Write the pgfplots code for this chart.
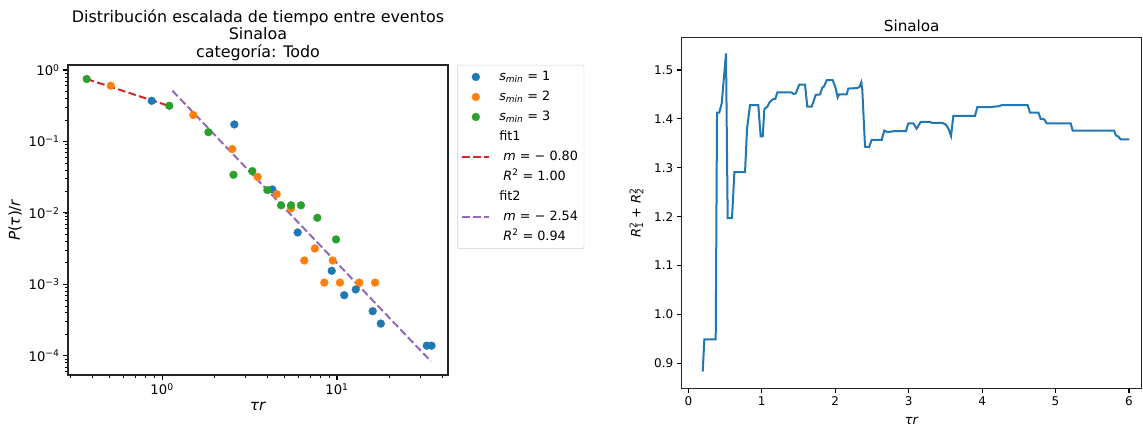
\documentclass[border=0pt]{standalone}
\usepackage{fontspec}
\setmainfont{DejaVu Sans}
\usepackage{pgfplots}
\pgfplotsset{compat=1.18}
\definecolor{mblue}{HTML}{1F77B4}
\definecolor{morange}{HTML}{FF7F0E}
\definecolor{mgreen}{HTML}{2CA02C}
\definecolor{mred}{HTML}{D62728}
\definecolor{mpurple}{HTML}{9467BD}
\newcommand{\logexp}[1]{\pgfmathparse{int(round(#1))}\ifnum\pgfmathresult<0 −\pgfmathparse{int(-\pgfmathresult)}\pgfmathresult\else\pgfmathresult\fi}
\pgfplotsset{
  mpl/.style={
    scale only axis,
    tick align=outside,
    xtick pos=bottom, ytick pos=left,
    major tick length=4.9pt, minor tick length=2.8pt,
    every tick/.style={black, line width=1.1pt},
    minor tick style={line width=0.8pt},
    axis line style={line width=1.1pt, black!85},
    /pgf/number format/assume math mode=true,
  },
  myleg/.style={legend image code/.code={\draw[mark repeat=2,mark phase=2,##1] plot coordinates {(0pt,0pt) (13.5pt,0pt) (27pt,0pt)};}},
}
\begin{document}
\begin{tikzpicture}
\useasboundingbox (0pt,0pt) rectangle (1143pt,428pt);
\begin{axis}[mpl,
  at={(68pt,53pt)}, anchor=south west,
  width=380pt, height=310pt,
  xmode=log, ymode=log, log basis x=10, log basis y=10,
  xmin=0.290, xmax=43.1, ymin=5.4e-5, ymax=1.175,
  xticklabel={10\textsuperscript{\logexp{\tick}}},
  yticklabel={10\textsuperscript{\logexp{\tick}}},
  xticklabel style={font=\fontsize{13.2}{15}\selectfont},
  yticklabel style={font=\fontsize{13.2}{15}\selectfont},
  label style={font=\fontsize{15}{17}\selectfont},
  title={Distribución escalada de tiempo entre eventos\\Sinaloa\\categoría: Todo},
  title style={font=\fontsize{15.9}{17.5}\selectfont, align=center, yshift=-5pt},
  xlabel={\textit{τr}},
  ylabel={\textit{P}(\textit{τ})/\textit{r}},
  legend style={at={(1.024,1)}, anchor=north west, draw=black!20, rounded corners=2pt,
    font=\fontsize{12.8}{15}\selectfont, row sep=4.5pt, inner xsep=4pt, inner ysep=4pt,
    nodes={text height=10pt, text depth=3.5pt, inner ysep=1pt},
    /tikz/every odd column/.style={column sep=7pt}},
  legend cell align=left,
]
\addplot[only marks, mark=*, mark size=3.9pt, draw=mblue, fill=mblue, myleg] coordinates {
(0.873,0.371) (2.59,0.173) (4.27,0.0213) (5.96,0.00533) (9.33,0.00155)
(11.0,0.000706) (12.8,0.00085) (16.0,0.000422) (17.8,0.000283)
(32.6,0.000139) (34.7,0.000139)
};
\addlegendentry{\textit{s}\textsubscript{\textit{min}} = 1}
\addplot[only marks, mark=*, mark size=3.9pt, draw=morange, fill=morange, myleg] coordinates {
(0.509,0.603) (1.51,0.234) (2.52,0.0783) (3.52,0.032) (4.52,0.0183)
(5.46,0.01156) (6.50,0.00216) (7.48,0.00318) (8.46,0.00106) (9.45,0.00216)
(10.4,0.00106) (13.4,0.00106) (16.5,0.00106)
};
\addlegendentry{\textit{s}\textsubscript{\textit{min}} = 2}
\addplot[only marks, mark=*, mark size=3.9pt, draw=mgreen, fill=mgreen, myleg] coordinates {
(0.371,0.748) (1.10,0.316) (1.84,0.135) (2.56,0.0342) (3.28,0.0385)
(4.0,0.0209) (4.79,0.0128) (5.46,0.0128) (6.22,0.0128) (7.72,0.00855)
(9.87,0.00426)
};
\addlegendentry{\textit{s}\textsubscript{\textit{min}} = 3}
\addlegendimage{empty legend}
\addlegendentry{fit1}
\addplot[mred, line width=2pt, dash pattern=on 7.7pt off 3.3pt, myleg] coordinates {
(0.371,0.748) (1.10,0.313)
};
\addlegendentry{\ \textit{m} = − 0.80}
\addlegendimage{empty legend}
\addlegendentry{\ \textit{R}\textsuperscript{2} = 1.00}
\addlegendimage{empty legend}
\addlegendentry{fit2}
\addplot[mpurple, line width=2pt, dash pattern=on 7.7pt off 3.3pt, myleg] coordinates {
(1.146,0.513) (34.4,8.4e-5)
};
\addlegendentry{\ \textit{m} = − 2.54}
\addlegendimage{empty legend}
\addlegendentry{\ \textit{R}\textsuperscript{2} = 0.94}
\end{axis}
\begin{axis}[mpl,
  at={(681.7pt,39.7pt)}, anchor=south west,
  width=460pt, height=350.6pt,
  xmin=-0.09, xmax=6.173, ymin=0.849, ymax=1.566,
  xtick={0,1,2,3,4,5,6},
  ytick={0.9,1.0,1.1,1.2,1.3,1.4,1.5},
  xticklabel style={font=\fontsize{12}{14}\selectfont},
  yticklabel style={font=\fontsize{12}{14}\selectfont, /pgf/number format/.cd, fixed, fixed zerofill, precision=1},
  label style={font=\fontsize{13}{15}\selectfont},
  xlabel style={yshift=-5pt},
  ylabel style={yshift=4pt},
  title={Sinaloa},
  title style={font=\fontsize{15.2}{17}\selectfont, yshift=-4pt},
  xlabel={\textit{τr}},
  ylabel={\textit{R}\rlap{\textsuperscript{2}}\textsubscript{1} + \textit{R}\rlap{\textsuperscript{2}}\textsubscript{2}},
]
\addplot[mblue, line width=2pt] coordinates {
(0.196,0.883) (0.218,0.949) (0.373,0.949) (0.391,1.413) (0.422,1.413)
(0.455,1.432) (0.513,1.534) (0.536,1.197) (0.595,1.197) (0.627,1.291)
(0.772,1.291) (0.800,1.380) (0.840,1.428) (0.953,1.428) (0.985,1.364)
(1.013,1.364) (1.035,1.420) (1.076,1.425) (1.103,1.433) (1.149,1.440)
(1.185,1.441) (1.212,1.454) (1.408,1.454) (1.430,1.451) (1.462,1.452)
(1.511,1.470) (1.589,1.470) (1.620,1.425) (1.680,1.425) (1.735,1.449)
(1.793,1.450) (1.824,1.464) (1.847,1.466) (1.884,1.479) (1.966,1.479)
(2.000,1.466) (2.034,1.444) (2.052,1.450) (2.156,1.450) (2.178,1.462)
(2.300,1.463) (2.328,1.465) (2.355,1.475) (2.369,1.459) (2.406,1.343)
(2.460,1.342) (2.497,1.357) (2.633,1.357) (2.668,1.376) (2.709,1.373)
(2.814,1.375) (2.964,1.375) (2.995,1.391) (3.063,1.391) (3.109,1.380)
(3.164,1.394) (3.290,1.394) (3.313,1.392) (3.458,1.392) (3.508,1.388)
(3.545,1.379) (3.577,1.365) (3.608,1.406) (3.903,1.406) (3.935,1.424)
(4.131,1.424) (4.162,1.425) (4.234,1.426) (4.267,1.428) (4.620,1.428)
(4.652,1.413) (4.766,1.413) (4.797,1.400) (4.847,1.399) (4.879,1.391)
(5.206,1.391) (5.233,1.376) (5.796,1.376) (5.823,1.366) (5.854,1.364)
(5.887,1.358) (6.004,1.358)
};
\end{axis}
\end{tikzpicture}
\end{document}
